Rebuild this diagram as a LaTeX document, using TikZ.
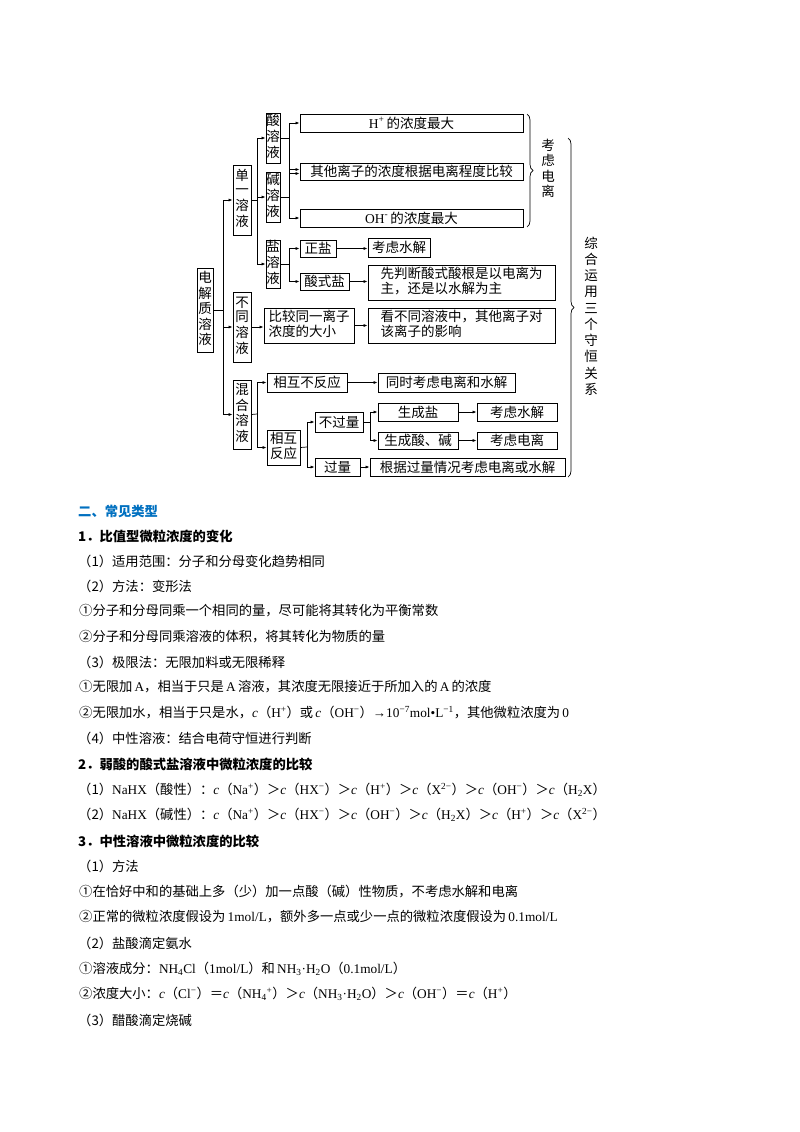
\documentclass[tikz,border=0pt]{standalone}
\usepackage{fontspec}
\setmainfont{Noto Sans CJK SC}
\newfontfamily\lt{Liberation Serif}
\usetikzlibrary{arrows.meta,decorations.pathreplacing}
\definecolor{hblue}{RGB}{0,112,192}
\newcommand{\cc}{{\lt\itshape c}}
\newcommand{\LT}[1]{{\lt #1}}
\newcommand{\bx}[6]{\node[bx,minimum width={#4-#2},minimum height={#5-#3}] (#1) at ({(#2+#4)/2},{(#3+#5)/2}) {#6};}
\newcommand{\vt}[1]{\begin{tabular}{@{}c@{}}#1\end{tabular}}
\begin{document}
\begin{tikzpicture}[x=1pt,y=-1pt,
  bx/.style={draw,line width=0.8pt,inner sep=0pt,font=\fontsize{13.5}{15}\selectfont,align=center},
  arr/.style={line width=0.7pt,-{Latex[length=4pt,width=3pt]}},
  ln/.style={line width=0.7pt},
  tx/.style={anchor=west,inner sep=0pt,font=\fontsize{13.3}{15}\selectfont},
  br/.style={line width=0.7pt,decorate,decoration={brace,amplitude=6pt}}]
\useasboundingbox (0,0) rectangle (800,1132);
\fill[white] (0,0) rectangle (800,1132);
\renewcommand{\arraystretch}{0.93}
% boxes
\bx{dj}{197}{268}{213}{352}{\vt{电\\解\\质\\溶\\液}}
\bx{dan}{233}{165}{251}{235}{\vt{单\\一\\溶\\液}}
\bx{bt}{233}{292}{251}{362}{\vt{不\\同\\溶\\液}}
\bx{hh}{233}{380}{251}{449}{\vt{混\\合\\溶\\液}}
\bx{suan}{266}{113}{280}{163}{\vt{酸\\溶\\液}}
\bx{jian}{266}{172}{280}{222}{\vt{碱\\溶\\液}}
\bx{yan}{266}{240}{280}{288}{\vt{盐\\溶\\液}}
\bx{h}{300}{114}{523}{132}{\LT{H\textsuperscript{+}}\,的浓度最大}
\bx{qt}{300}{163}{523}{180}{其他离子的浓度根据电离程度比较}
\bx{oh}{300}{209}{523}{227}{\LT{OH\textsuperscript{-}}\,的浓度最大}
\bx{zy}{300}{240}{336}{257}{正盐}
\bx{ks1}{368}{238}{430}{257}{考虑水解}
\bx{ssy}{300}{273}{349}{290}{酸式盐}
\bx{xp}{368}{265}{555}{300}{\begin{tabular}{@{}l@{}}先判断酸式酸根是以电离为\\主，还是以水解为主\end{tabular}}
\bx{bj}{264}{308}{354}{343}{\begin{tabular}{@{}l@{}}比较同一离子\\浓度的大小\end{tabular}}
\bx{kb}{368}{308}{555}{343}{\begin{tabular}{@{}l@{}}看不同溶液中，其他离子对\\该离子的影响\end{tabular}}
\bx{bfy}{267}{373}{347}{392}{相互不反应}
\bx{ts}{378}{373}{515}{392}{同时考虑电离和水解}
\bx{xh}{267}{430}{300}{465}{\vt{相互\\反应}}
\bx{bg}{315}{412}{363}{432}{不过量}
\bx{scy}{378}{403}{458}{421}{生成盐}
\bx{scj}{378}{432}{458}{449}{生成酸、碱}
\bx{ks2}{477}{403}{557}{421}{考虑水解}
\bx{kd}{477}{432}{557}{449}{考虑电离}
\bx{gl}{315}{458}{360}{476}{过量}
\bx{gj}{370}{458}{565}{476}{根据过量情况考虑电离或水解}
% connectors
\draw[ln] (dj.east) -- (223,310);
\draw[arr] (223,310) |- (dan.west);
\draw[arr] (223,310) |- (bt.west);
\draw[arr] (223,310) |- (hh.west);
\draw[ln] (dan.east) -- (257,200);
\draw[arr] (257,200) |- (suan.west);
\draw[arr] (257,200) |- (jian.west);
\draw[arr] (257,200) |- (yan.west);
\draw[ln] (suan.east) -- (289,138);
\draw[arr] (289,138) |- (h.west);
\draw[arr] (289,138) |- ([yshift=-2pt]qt.west);
\draw[ln] (jian.east) -- (289,197);
\draw[arr] (289,197) |- ([yshift=2pt]qt.west);
\draw[arr] (289,197) |- (oh.west);
\draw[ln] (yan.east) -- (289,264);
\draw[arr] (289,264) |- (zy.west);
\draw[arr] (289,264) |- (ssy.west);
\draw[arr] (zy.east) -- (ks1.west|-zy.east);
\draw[arr] (ssy.east) -- (xp.west|-ssy.east);
\draw[arr] (bt.east) -- (bj.west|-bt.east);
\draw[arr] (bj.east) -- (kb.west);
\draw[ln] (hh.east) -- (257,414);
\draw[arr] (257,414) |- (bfy.west);
\draw[arr] (257,414) |- (xh.west);
\draw[arr] (bfy.east) -- (ts.west);
\draw[ln] (xh.east) -- (307,447);
\draw[arr] (307,447) |- (bg.west);
\draw[arr] (307,447) |- (gl.west);
\draw[ln] (bg.east) -- (370,422);
\draw[arr] (370,422) |- (scy.west);
\draw[arr] (370,422) |- (scj.west);
\draw[arr] (scy.east) -- (ks2.west);
\draw[arr] (scj.east) -- (kd.west);
\draw[arr] (gl.east) -- (gj.west);
% braces
\draw[br] (527,114) -- (527,227);
\node[font=\fontsize{13.5}{15}\selectfont,inner sep=0pt] (kl) at (548,170) {\vt{考\\虑\\电\\离}};
\draw[br] (568,138) -- (568,477);
\node[font=\fontsize{13.5}{15}\selectfont,inner sep=0pt] (zh) at (591,318) {\renewcommand{\arraystretch}{1.08}\vt{综\\合\\运\\用\\三\\个\\守\\恒\\关\\系}};
% text
\node[tx,text=hblue,font=\fontsize{13.3}{15}\bfseries] (t0) at (78,511) {二、常见类型};
\node[tx,font=\fontsize{13.3}{15}\bfseries] (t1) at (78,536) {1．比值型微粒浓度的变化};
\node[tx] (t2) at (78,561) {（1）适用范围：分子和分母变化趋势相同};
\node[tx] (t3) at (78,586) {（2）方法：变形法};
\node[tx] (t4) at (79,611) {①分子和分母同乘一个相同的量，尽可能将其转化为平衡常数};
\node[tx] (t5) at (79,637) {②分子和分母同乘溶液的体积，将其转化为物质的量};
\node[tx] (t6) at (78,662) {（3）极限法：无限加料或无限稀释};
\node[tx] (t7) at (79,687) {①无限加\,\LT{A}，相当于只是\,\LT{A}\,溶液，其浓度无限接近于所加入的\,\LT{A}\,的浓度};
\node[tx] (t8) at (79,713) {②无限加水，相当于只是水，\cc（\LT{H\textsuperscript{+}}）或\,\cc（\LT{OH\textsuperscript{−}}）\LT{→10\textsuperscript{−7}mol•L\textsuperscript{−1}}，其他微粒浓度为\,\LT{0}};
\node[tx] (t9) at (78,738) {（4）中性溶液：结合电荷守恒进行判断};
\node[tx,font=\fontsize{13.3}{15}\bfseries] (t10) at (78,764) {2．弱酸的酸式盐溶液中微粒浓度的比较};
\node[tx] (t11) at (78,790) {（1）\LT{NaHX}（酸性）：\cc（\LT{Na\textsuperscript{+}}）＞\cc（\LT{HX\textsuperscript{−}}）＞\cc（\LT{H\textsuperscript{+}}）＞\cc（\LT{X\textsuperscript{2−}}）＞\cc（\LT{OH\textsuperscript{−}}）＞\cc（\LT{H\textsubscript{2}X}）};
\node[tx] (t12) at (78,815) {（2）\LT{NaHX}（碱性）：\cc（\LT{Na\textsuperscript{+}}）＞\cc（\LT{HX\textsuperscript{−}}）＞\cc（\LT{OH\textsuperscript{−}}）＞\cc（\LT{H\textsubscript{2}X}）＞\cc（\LT{H\textsuperscript{+}}）＞\cc（\LT{X\textsuperscript{2−}}）};
\node[tx,font=\fontsize{13.3}{15}\bfseries] (t13) at (78,841) {3．中性溶液中微粒浓度的比较};
\node[tx] (t14) at (78,866) {（1）方法};
\node[tx] (t15) at (79,892) {①在恰好中和的基础上多（少）加一点酸（碱）性物质，不考虑水解和电离};
\node[tx] (t16) at (79,917) {②正常的微粒浓度假设为\,\LT{1mol/L}，额外多一点或少一点的微粒浓度假设为\,\LT{0.1mol/L}};
\node[tx] (t17) at (78,943) {（2）盐酸滴定氨水};
\node[tx] (t18) at (79,969) {①溶液成分：\LT{NH\textsubscript{4}Cl}（\LT{1mol/L}）和\,\LT{NH\textsubscript{3}·H\textsubscript{2}O}（\LT{0.1mol/L}）};
\node[tx] (t19) at (79,994) {②浓度大小：\cc（\LT{Cl\textsuperscript{−}}）＝\cc（\LT{NH\textsubscript{4}\textsuperscript{+}}）＞\cc（\LT{NH\textsubscript{3}·H\textsubscript{2}O}）＞\cc（\LT{OH\textsuperscript{−}}）＝\cc（\LT{H\textsuperscript{+}}）};
\node[tx] (t20) at (78,1020) {（3）醋酸滴定烧碱};
\end{tikzpicture}
\end{document}
